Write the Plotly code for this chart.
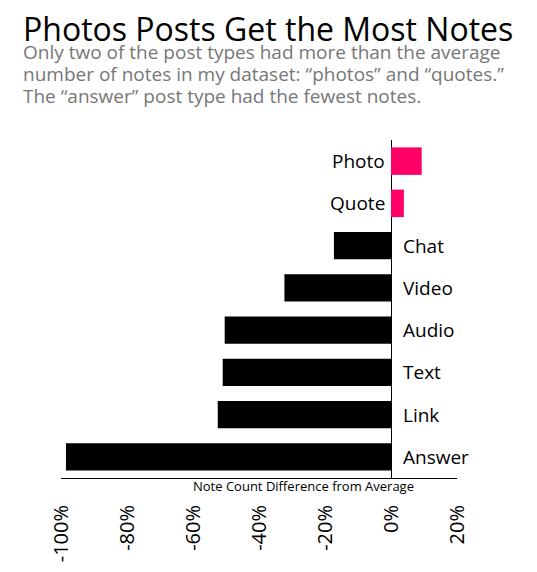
import plotly.graph_objects as go

categories = ["Photo", "Quote", "Chat", "Video", "Audio", "Text", "Link", "Answer"]
values = [9.3, 3.9, -17.3, -32.3, -50.4, -51.0, -52.5, -98.5]
tick_values = [-100, -80, -60, -40, -20, 0, 20]

title_text = "Photos Posts Get the Most Notes"
subtitle_lines = [
    "Only two of the post types had more than the average",
    "number of notes in my dataset: \u201cphotos\u201d and \u201cquotes.\u201d",
    "The \u201canswer\u201d post type had the fewest notes.",
]
axis_title = "Note Count Difference from Average"

PINK = "#ff0066"
FONT = "Open Sans"

W_FIG, H_FIG = 537, 572
OFF = 8  # page body margin
X0, X1, Y0, Y1 = 61, 457, 139.5, 478  # plot area in viewport px
L = X0 - OFF
T = Y0 - OFF
R = W_FIG - (X1 - OFF)
B = H_FIG - (Y1 - OFF)
PW = X1 - X0
PH = Y1 - Y0


def px_x(px):
    return (px - X0) / PW


def px_y(py):
    return 1 - (py - Y0) / PH


colors = [PINK if v > 0 else "black" for v in values]

fig = go.Figure(
    go.Bar(
        x=values,
        y=categories,
        orientation="h",
        marker=dict(color=colors, line=dict(width=0)),
        hoverinfo="skip",
    )
)

annotations = []
for c, v in zip(categories, values):
    if v > 0:
        annotations.append(dict(x=0, y=c, xref="x", yref="y", text=c, showarrow=False,
                                xanchor="right", xshift=-4,
                                font=dict(family=FONT, size=19, color="black")))
    else:
        annotations.append(dict(x=0, y=c, xref="x", yref="y", text=c, showarrow=False,
                                xanchor="left", xshift=10,
                                font=dict(family=FONT, size=19, color="black")))

annotations.append(dict(x=px_x(21), y=px_y(28), xref="paper", yref="paper", text=title_text,
                        showarrow=False, xanchor="left", yanchor="middle",
                        font=dict(family=FONT, size=32, color="black")))
for i, line in enumerate(subtitle_lines):
    annotations.append(dict(x=px_x(21), y=px_y(51 + 22 * i), xref="paper", yref="paper", text=line,
                            showarrow=False, xanchor="left", yanchor="middle",
                            font=dict(family=FONT, size=19, color="#777777")))

annotations.append(dict(x=px_x(303), y=px_y(486), xref="paper", yref="paper", text=axis_title,
                        showarrow=False, xanchor="center", yanchor="middle",
                        font=dict(family=FONT, size=13, color="black")))

fig.update_layout(
    width=W_FIG, height=H_FIG,
    margin=dict(l=L, r=R, t=T, b=B),
    paper_bgcolor="white", plot_bgcolor="white",
    showlegend=False,
    bargap=0.35,
    annotations=annotations,
    xaxis=dict(
        range=[-100, 20],
        tickvals=tick_values,
        ticktext=[f"{v}%" for v in tick_values],
        tickangle=-90,
        tickfont=dict(family=FONT, size=20, color="black"),
        ticks="",
        ticklabelstandoff=18,
        showgrid=False,
        zeroline=True, zerolinecolor="black", zerolinewidth=1,
        showline=True, linecolor="black", linewidth=1,
    ),
    yaxis=dict(
        autorange="reversed",
        showticklabels=False,
        showgrid=False, zeroline=False, showline=False, ticks="",
    ),
)

fig.write_html("out.html")
